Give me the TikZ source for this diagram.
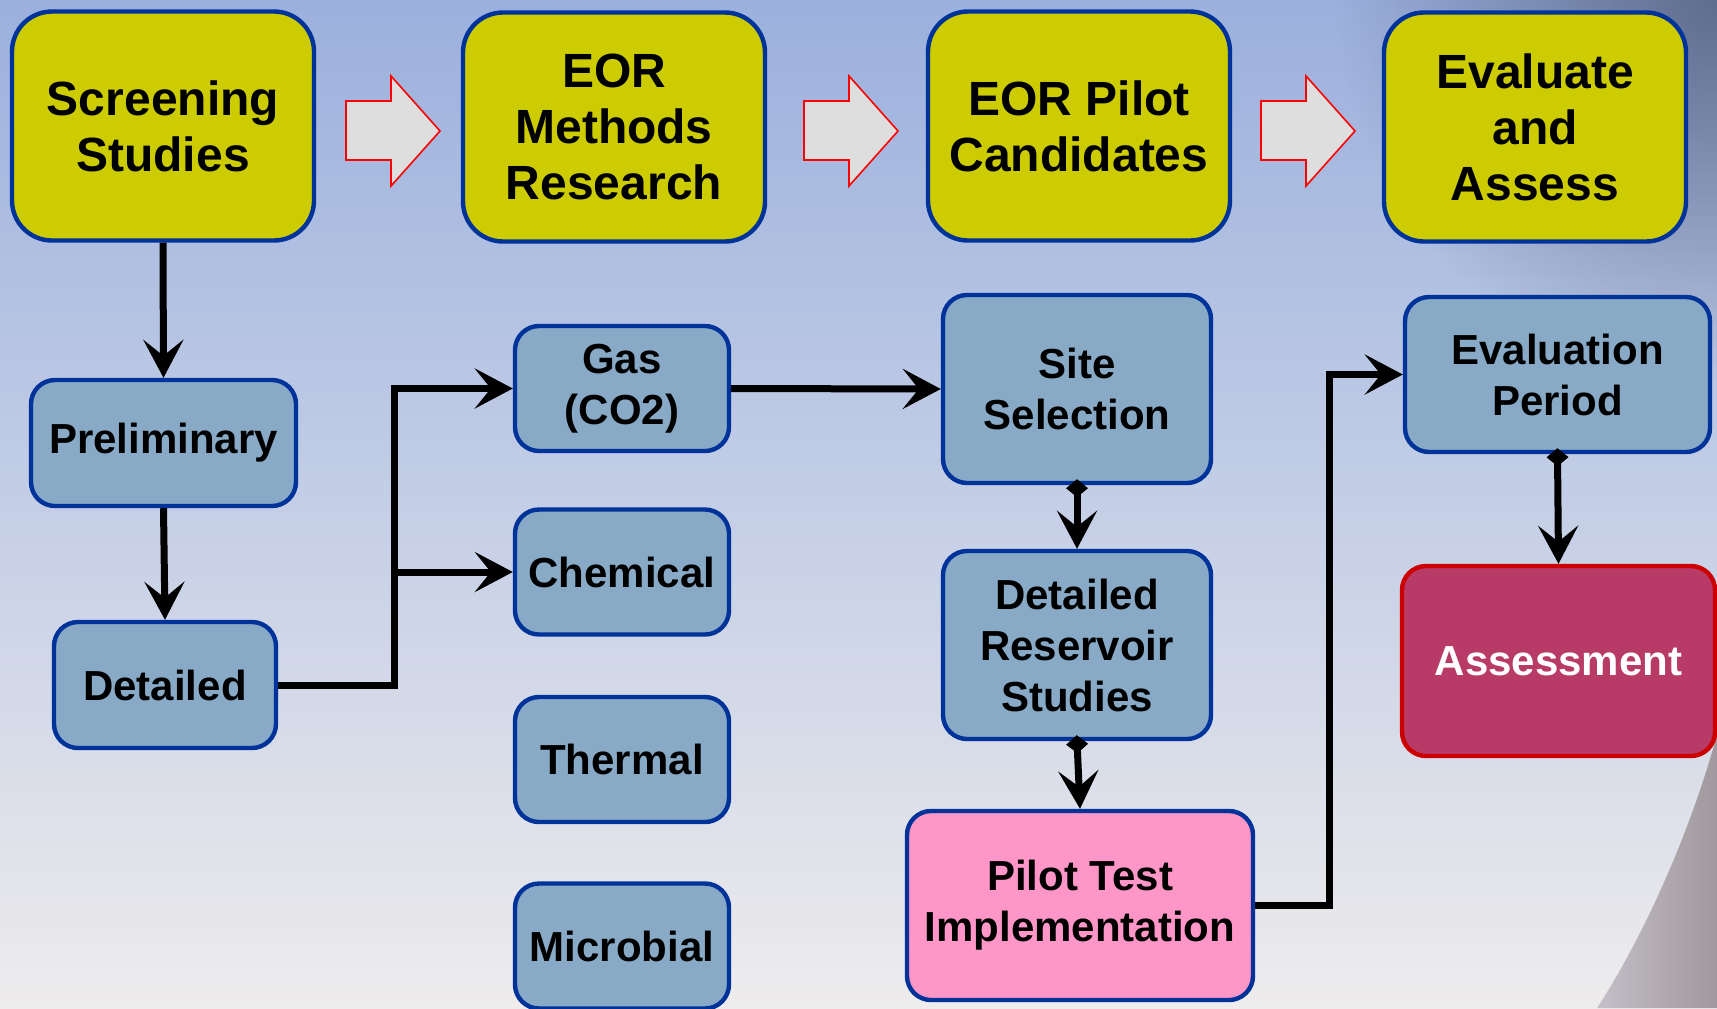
\documentclass[tikz,border=0pt]{standalone}
\usepackage{fontspec}
\setmainfont{Liberation Sans}
\usetikzlibrary{arrows.meta,fadings}

\definecolor{olive}{HTML}{CCCC00}
\definecolor{navy}{HTML}{003399}
\definecolor{steel}{HTML}{88AAC6}
\definecolor{rose}{HTML}{FF96C8}
\definecolor{berry}{HTML}{B83A66}
\definecolor{alarm}{HTML}{CC0000}

\tikzfading[name=cornerfade, inner color=transparent!0, outer color=transparent!100]

\tikzset{
  topbox/.style={draw=navy, line width=2.2pt, fill=olive, rounded corners=20pt,
    minimum width=151pt, minimum height=114.5pt, align=center,
    font=\fontsize{24}{28}\selectfont\bfseries},
  subbox/.style={draw=navy, line width=2.2pt, fill=steel, rounded corners=12pt,
    align=center, inner sep=0pt, font=\fontsize{21}{25.5}\selectfont\bfseries},
  link/.style={line width=3.5pt, -{Stealth[length=19pt,width=20pt,inset=8pt]}},
  dlink/.style={line width=3.5pt, shorten <=-3pt,
    {Diamond[length=9pt,width=11pt]}-{Stealth[length=19pt,width=20pt,inset=8pt]}},
  blockarrow/.style={draw=red, line width=0.8pt, fill=black!13}
}

\begin{document}
\begin{tikzpicture}[x=0.5pt,y=-0.5pt]
\useasboundingbox (0,0) rectangle (1717,1008);
% background
\shade[top color={rgb,255:red,155;green,176;blue,221}, bottom color={rgb,255:red,238;green,236;blue,236},
  middle color={rgb,255:red,196;green,206;blue,230}] (0,0) rectangle (1717,1008);
\fill[color={rgb,255:red,80;green,92;blue,122}, opacity=0.8, path fading=cornerfade] (1717,0) circle (380);
\shade[left color={rgb,255:red,196;green,192;blue,200}, right color={rgb,255:red,160;green,152;blue,156}]
  (1717,735) .. controls (1685,850) and (1635,950) .. (1597,1008) -- (1717,1008) -- cycle;

% top row
\node[topbox] (scr) at (163,126) {Screening\\Studies};
\node[topbox] (eor) at (614,127) {EOR\\Methods\\Research};
\node[topbox] (pil) at (1079,126) {EOR Pilot\\Candidates};
\node[topbox] (eva) at (1535,127) {Evaluate\\and\\Assess};
\foreach \x in {346,804,1261}
  \draw[blockarrow, shift={(\x,76)}] (0,25) -- (45,25) -- (45,0) -- (94,55) -- (45,110) -- (45,84) -- (0,84) -- cycle;

% screening
\node[subbox, minimum width=132.5pt, minimum height=63pt] (pre) at (163.5,443) {Preliminary};
\node[subbox, minimum width=111pt, minimum height=63pt] (det) at (165,685) {Detailed};

% methods
\node[subbox, minimum width=107pt, minimum height=62.5pt] (gas) at (622,388.5) {Gas\\(CO2)};
\node[subbox, minimum width=107pt, minimum height=62.5pt] (che) at (622,572) {Chemical};
\node[subbox, minimum width=107pt, minimum height=62.5pt] (the) at (622,759.5) {Thermal};
\node[subbox, minimum width=107pt, minimum height=62.5pt] (mic) at (622,946) {Microbial};

% pilot
\node[subbox, minimum width=134pt, minimum height=94pt] (sit) at (1077,389) {Site\\Selection};
\node[subbox, minimum width=134pt, minimum height=94pt] (res) at (1077,645) {Detailed\\Reservoir\\Studies};
\node[subbox, fill=rose, minimum width=173pt, minimum height=94.5pt] (pit) at (1080,905.5) {Pilot Test\\Implementation};

% evaluate
\node[subbox, minimum width=152.5pt, minimum height=77.5pt] (evp) at (1557.5,374.5) {Evaluation\\Period};
\node[subbox, draw=alarm, fill=berry, text=white, minimum width=156.5pt, minimum height=95pt] (asm) at (1558.5,661) {Assessment};

\coordinate (fork) at (394,572);
\coordinate (rise) at (1329,374.5);

\draw[link] (scr.south) -- (pre.north);
\draw[link] (pre.south) -- (det.north);
\draw[link] (det.east) -| (fork) |- (gas.west);
\draw[link] (fork) -- (che.west);
\draw[link] (gas.east) -- (sit.west);
\draw[dlink] (sit.south) -- (res.north);
\draw[dlink] (res.south) -- (pit.north);
\draw[link] (pit.east) -| (rise) -- (evp.west);
\draw[dlink] (evp.south) -- (asm.north);
\end{tikzpicture}
\end{document}
